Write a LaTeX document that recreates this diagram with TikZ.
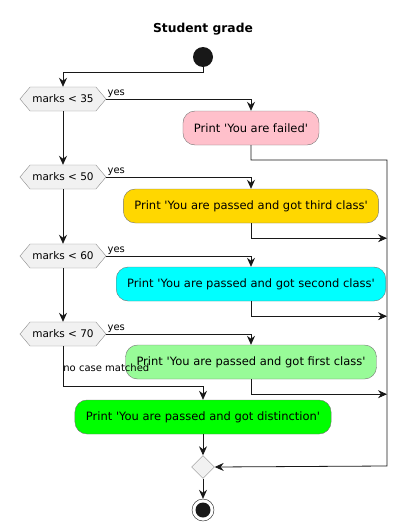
\documentclass[tikz,border=0pt]{standalone}
\usepackage{fontspec}
\setmainfont{DejaVu Sans}
\usepackage{tikz}
\usetikzlibrary{arrows.meta, calc, shapes.geometric, shapes.symbols}
\definecolor{failc}{HTML}{FFC0CB}
\definecolor{thirdc}{HTML}{FFD700}
\definecolor{secondc}{HTML}{00FFFF}
\definecolor{firstc}{HTML}{98FB98}
\definecolor{distc}{HTML}{00FF00}
\definecolor{branchbg}{HTML}{F1F1F1}
\definecolor{ink}{HTML}{181818}
\newcommand{\sq}{\textquotesingle}
\tikzset{
  action/.style={
    draw=ink!60, rounded corners=12pt, minimum height=34pt,
    inner xsep=11pt, font=\fontsize{11.5}{13}\selectfont
  },
  decision/.style={
    signal, signal to=west and east, signal pointer angle=100,
    draw=ink!50, fill=branchbg, minimum width=86pt, minimum height=24pt,
    inner xsep=2pt, font=\fontsize{10.5}{12}\selectfont
  },
  merge/.style={diamond, draw=ink!50, fill=branchbg, minimum size=23pt, inner sep=0pt},
  yes label/.style={anchor=south west, inner sep=1pt, font=\fontsize{10}{11}\selectfont},
  flow/.style={draw=ink, line width=0.8pt},
}
\begin{document}
\begin{tikzpicture}[x=1pt, y=-1pt, >={Stealth[length=9pt, width=8pt, inset=3pt]}]
  \useasboundingbox (0,0) rectangle (408,530);
  \node[font=\fontsize{12.3}{14}\selectfont\bfseries] (title) at (203,29) {Student grade};
  \node[circle, fill=ink, minimum size=20pt, inner sep=0pt] (start) at (203,57) {};

  \node[decision] (d35) at (63,99) {marks < 35};
  \node[decision] (d50) at (63,177) {marks < 50};
  \node[decision] (d60) at (63,256) {marks < 60};
  \node[decision] (d70) at (63,334) {marks < 70};

  \node[action, fill=failc] (fail) at (251,128) {Print \sq You are failed\sq};
  \node[action, fill=thirdc] (third) at (251,206) {Print \sq You are passed and got third class\sq};
  \node[action, fill=secondc] (second) at (251,284) {Print \sq You are passed and got second class\sq};
  \node[action, fill=firstc] (first) at (251,362) {Print \sq You are passed and got first class\sq};
  \node[action, fill=distc] (dist) at (203,417) {Print \sq You are passed and got distinction\sq};

  \node[merge] (merge) at (203,467) {};
  \node[circle, draw=ink, fill=white, minimum size=22pt, inner sep=0pt,
        path picture={\fill[ink] (path picture bounding box.center) circle (7.5pt);}] (stop) at (203,510) {};

  \coordinate (railtop) at (387,160);
  \coordinate (railbot) at (387,466);

  % main column
  \draw[flow, ->] (start.south) -- ++(0,5) -| (d35.north);
  \draw[flow, ->] (d35.south) -- (d50.north);
  \draw[flow, ->] (d50.south) -- (d60.north);
  \draw[flow, ->] (d60.south) -- (d70.north);
  \draw[flow, ->] (d70.south) -- node[pos=0.55, anchor=west, inner sep=0pt, font=\fontsize{10}{11}\selectfont] {no case matched} ++(0,40) -| (dist.north);

  % yes branches
  \draw[flow, ->] (d35.east) -| (fail.north) node[pos=0, yes label] {yes};
  \draw[flow, ->] (d50.east) -| (third.north) node[pos=0, yes label] {yes};
  \draw[flow, ->] (d60.east) -| (second.north) node[pos=0, yes label] {yes};
  \draw[flow, ->] (d70.east) -| (first.north) node[pos=0, yes label] {yes};

  % back to the merge
  \draw[flow, ->] (fail.south) |- (railtop) -- (railbot) -- (merge.east);
  \draw[flow, ->] (third.south) -- ++(0,15) coordinate (c3) -- (c3 -| railtop);
  \draw[flow, ->] (second.south) -- ++(0,15) coordinate (c2) -- (c2 -| railtop);
  \draw[flow, ->] (first.south) -- ++(0,15) coordinate (c1) -- (c1 -| railtop);
  \draw[flow, ->] (dist.south) -- (merge.north);
  \draw[flow, ->] (merge.south) -- (stop.north);
\end{tikzpicture}
\end{document}
